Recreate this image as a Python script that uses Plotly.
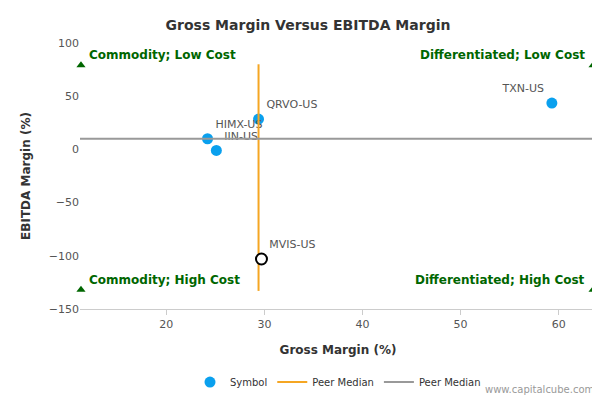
import plotly.graph_objects as go

symbols = ["TXN-US", "QRVO-US", "HIMX-US", "IIN-US"]
gross = [59.3, 29.4, 24.2, 25.1]
ebitda = [43.5, 28.5, 10.0, -1.0]
target_sym = "MVIS-US"
target_gross = [29.7]
target_ebitda = [-103.0]
median_gross = 29.4
median_ebitda = 10.0
x_rng = [11.2, 63.8]
y_rng = [-150, 100]
corner_x = [11.3, 63.5, 11.3, 63.5]
corner_y = [79, 79, -132, -132]
quad_text = ["Commodity; Low Cost", "Differentiated; Low Cost",
             "Commodity; High Cost", "Differentiated; High Cost"]

fig = go.Figure()
fig.add_trace(go.Scatter(x=gross, y=ebitda, mode="markers+text", text=symbols,
                         textposition=["top left", "top right", "top right", "top right"],
                         textfont=dict(size=11, color="#555"),
                         marker=dict(color="#0aa0ee", size=11), name="Symbol"))
fig.add_trace(go.Scatter(x=[median_gross] * 2, y=[-133, 80], mode="lines",
                         line=dict(color="#f5a623", width=2), name="Peer Median"))
fig.add_trace(go.Scatter(x=x_rng, y=[median_ebitda] * 2, mode="lines",
                         line=dict(color="#999999", width=2), name="Peer Median"))
fig.add_trace(go.Scatter(x=target_gross, y=target_ebitda, mode="markers+text",
                         text=[target_sym], textposition="top right",
                         textfont=dict(size=11, color="#555"),
                         marker=dict(color="white", size=11, line=dict(color="black", width=2)),
                         showlegend=False))
fig.add_trace(go.Scatter(x=corner_x, y=corner_y, mode="markers", cliponaxis=False,
                         marker=dict(symbol="triangle-up", color="#006600", size=8),
                         showlegend=False, hoverinfo="skip"))
for i, t in enumerate(quad_text):
    left = i % 2 == 0
    fig.add_annotation(x=corner_x[i], y=corner_y[i], text="<b>" + t + "</b>",
                       showarrow=False, xanchor="left" if left else "right",
                       xshift=6 if left else -6, yshift=10,
                       font=dict(size=12, color="#006600"))

fig.update_layout(
    width=600, height=400, plot_bgcolor="white", paper_bgcolor="white",
    title=dict(text="<b>Gross Margin Versus EBITDA Margin</b>", x=0.5, y=0.97,
               font=dict(size=14, color="#333")),
    font=dict(family="DejaVu Sans", size=11, color="#555"),
    margin=dict(l=72, r=12, t=35, b=93),
    xaxis=dict(range=x_rng, tickvals=[20, 30, 40, 50, 60], showgrid=False,
               zeroline=False, showline=True, linecolor="#ccc", ticks="outside",
               tickcolor="#ccc",
               title=dict(text="<b>Gross Margin (%)</b>", font=dict(size=12, color="#333"))),
    yaxis=dict(range=y_rng, dtick=50, showgrid=False, zeroline=False,
               title=dict(text="<b>EBITDA Margin (%)</b>", font=dict(size=12, color="#333"))),
    legend=dict(orientation="h", x=0.5, xanchor="center", y=-0.22, font=dict(size=10, color="#333")),
)
fig.add_annotation(text="www.capitalcube.com", xref="paper", yref="paper", x=1.0, y=-0.33,
                   xanchor="right", showarrow=False, font=dict(size=10, color="#999"))
fig.write_html("out.html")
